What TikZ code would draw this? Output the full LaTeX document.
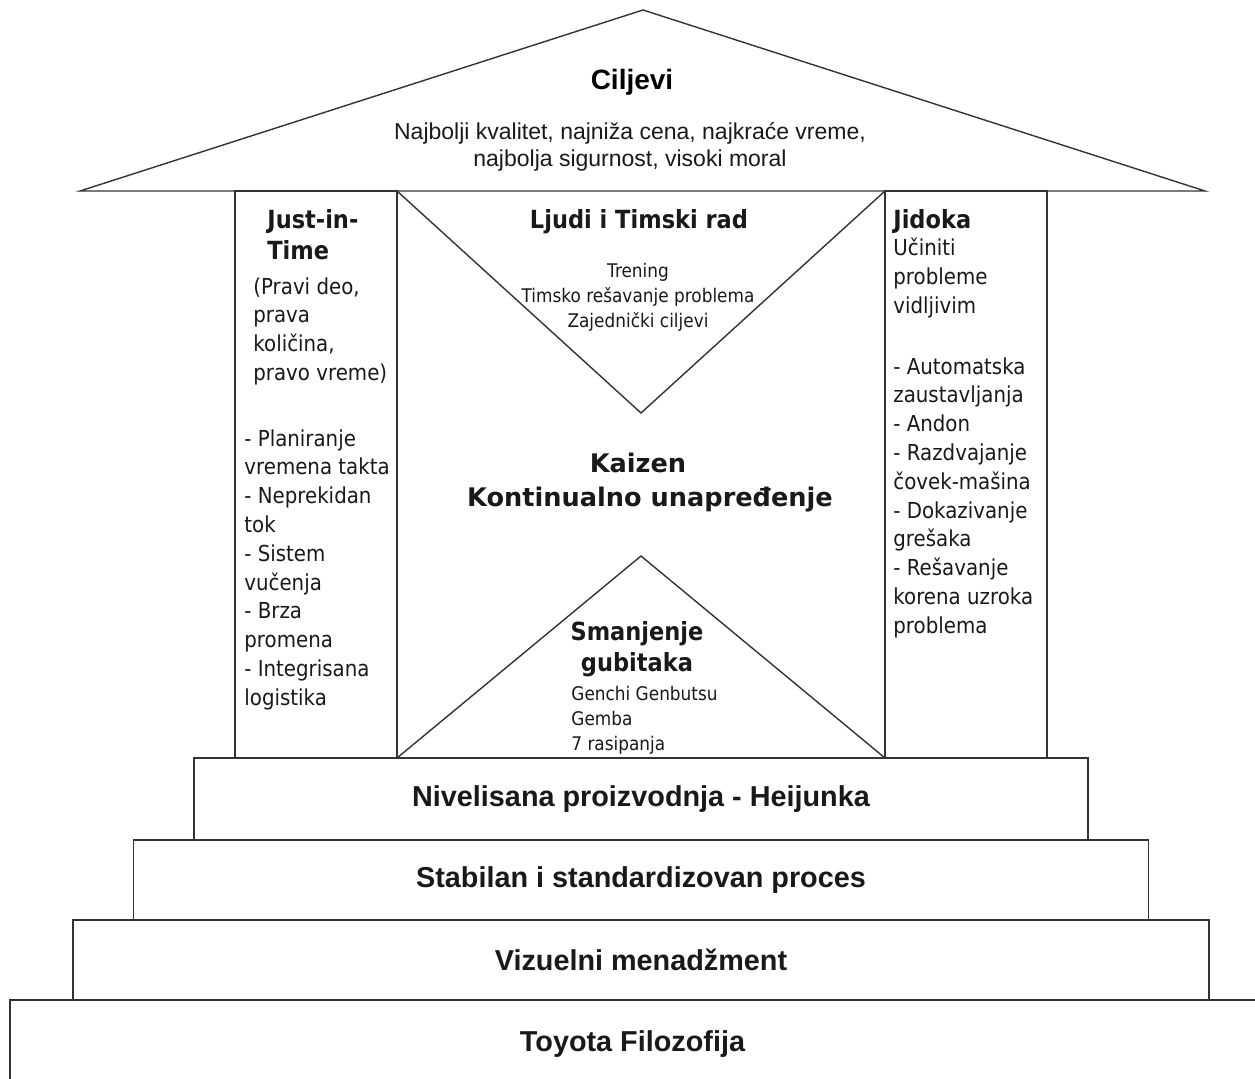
\documentclass[tikz,border=0pt]{standalone}
\usepackage{fontspec}
\setmainfont{Liberation Sans}
\newfontfamily\tahoma[FakeStretch=0.9]{DejaVu Sans}
\newfontfamily\verdana{DejaVu Sans}
\usetikzlibrary{positioning}

\begin{document}
\begin{tikzpicture}[
    x=0.5pt, y=-0.5pt,
    line/.style={draw=black!80, line width=0.7pt},
    stepbox/.style={rectangle, line, outer sep=0pt, inner sep=0pt, text=black!90,
                    font=\fontsize{14.4}{17}\selectfont\bfseries},
    pillar/.style={rectangle, line, outer sep=0pt, inner sep=0pt,
                   minimum width=81pt, minimum height=283.5pt},
    goal/.style={font=\fontsize{11.5}{13.5}\selectfont, align=center,
                 inner sep=0pt, text=black!90},
    head/.style={font=\tahoma\fontsize{12.5}{15.5}\selectfont\bfseries,
                 align=left, inner sep=0pt, text=black!90},
    body/.style={font=\tahoma\fontsize{11}{14.4}\selectfont, align=left,
                 inner sep=0pt, text=black!90},
    small/.style={font=\tahoma\fontsize{9.4}{12.5}\selectfont, inner sep=0pt,
                  text=black!90},
    kaizen/.style={font=\verdana\fontsize{12.8}{16.5}\selectfont\bfseries,
                   inner sep=0pt, text=black!90},
]
\useasboundingbox (0,0) rectangle (1255,1079);

% Roof
\draw[line] (80,191) -- (643,10) -- (1205,191) -- cycle;
\node[font=\fontsize{14}{16}\selectfont\bfseries, inner sep=0pt, anchor=base] (goaltitle) at (632,90) {Ciljevi};
\node[goal, anchor=north] (goaltext) at (630,122) {Najbolji kvalitet, najniža cena, najkraće vreme,\\najbolja sigurnost, visoki moral};

% Pillars
\node[pillar] (jitcol) at (316,474.5) {};
\node[pillar] (jidcol) at (966,474.5) {};

% Left pillar: Just-in-Time
\node[head, anchor=north west] (jit) at (267,209) {Just-in-\\Time};
\node[body, anchor=north west] (jitsub) at (253,277) {(Pravi deo,\\prava\\količina,\\pravo vreme)};
\node[body, anchor=north west] (jitlist) at (244,429) {- Planiranje\\vremena takta\\- Neprekidan\\tok\\- Sistem\\vučenja\\- Brza\\promena\\- Integrisana\\logistika};

% Right pillar: Jidoka
\node[head, anchor=north west] (jid) at (893,209) {Jidoka};
\node[body, anchor=north west] (jidsub) at (893,238) {Učiniti\\probleme\\vidljivim};
\node[body, anchor=north west] (jidlist) at (893,357) {- Automatska\\zaustavljanja\\- Andon\\- Razdvajanje\\čovek-mašina\\- Dokazivanje\\grešaka\\- Rešavanje\\korena uzroka\\problema};

% Center: two triangles
\draw[line] (jitcol.north east) -- (641,413) -- (jidcol.north west);
\draw[line] (jitcol.south east) -- (641,556) -- (jidcol.south west);

\node[head, anchor=north] (people) at (639,209) {Ljudi i Timski rad};
\node[small, align=center, anchor=north] (peoplelist) at (638,263) {Trening\\Timsko rešavanje problema\\Zajednički ciljevi};

\node[kaizen, anchor=base] (kaizen) at (638,473) {Kaizen};
\node[kaizen, anchor=base] (kontinual) at (650,507) {Kontinualno unapređenje};

\node[head, align=center, anchor=north] (waste) at (637,621) {Smanjenje\\gubitaka};
\node[small, align=left, anchor=north west] (wastelist) at (571,686) {Genchi Genbutsu\\Gemba\\7 rasipanja};

% Foundation steps
\node[stepbox, minimum width=447pt, minimum height=41pt] (heij) at (641,799) {Nivelisana proizvodnja - Heijunka};
\node[stepbox, minimum width=507.5pt, minimum height=40pt, below=0pt of heij] (stab) {Stabilan i standardizovan proces};
\node[stepbox, minimum width=568pt, minimum height=40pt, below=0pt of stab] (viz) {Vizuelni menadžment};
\node[stepbox, draw=none] (toyota) at (632.5,1044) {Toyota Filozofija};
\draw[line] (1255,1000) -- (10,1000) -- (10,1079);

\end{tikzpicture}
\end{document}
